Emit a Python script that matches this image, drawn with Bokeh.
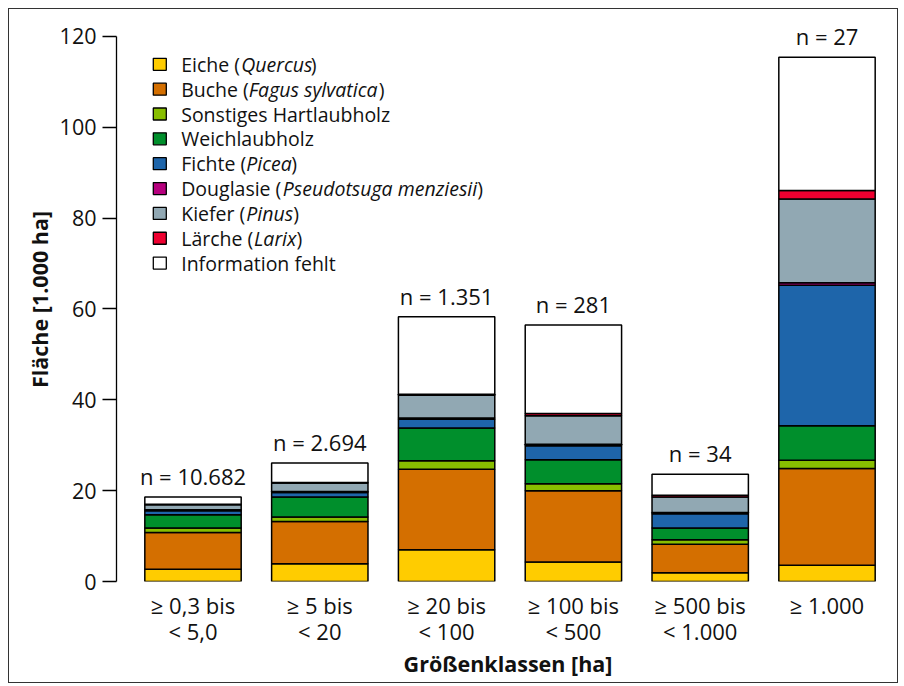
from bokeh.plotting import figure
from bokeh.models import Range1d, FixedTicker, ColumnDataSource
from bokeh.core.properties import value
from bokeh.embed import file_html
from bokeh.resources import INLINE

# ---------------- data ----------------
categories = ["≥ 0,3 bis\n< 5,0", "≥ 5 bis\n< 20", "≥ 20 bis\n< 100",
              "≥ 100 bis\n< 500", "≥ 500 bis\n< 1.000", "≥ 1.000"]
n_labels = ["n = 10.682", "n = 2.694", "n = 1.351", "n = 281", "n = 34", "n = 27"]

eiche     = [2.7, 3.9, 7.0, 4.3, 1.9, 3.6]
buche     = [8.1, 9.3, 17.7, 15.7, 6.3, 21.3]
hartlaub  = [1.0, 1.0, 1.9, 1.5, 1.0, 1.8]
weichlaub = [2.9, 4.4, 7.2, 5.3, 2.6, 7.6]
fichte    = [0.9, 1.0, 1.9, 3.1, 3.1, 30.9]
douglasie = [0.2, 0.2, 0.3, 0.3, 0.3, 0.6]
kiefer    = [1.1, 1.9, 5.0, 6.3, 3.4, 18.4]
laerche   = [0.1, 0.1, 0.2, 0.5, 0.4, 1.9]
fehlt     = [1.6, 4.3, 17.1, 19.5, 4.6, 29.3]

y_ticks = [0, 20, 40, 60, 80, 100, 120]

series_names = ["eiche", "buche", "hartlaub", "weichlaub", "fichte",
                "douglasie", "kiefer", "laerche", "fehlt"]
series_values = [eiche, buche, hartlaub, weichlaub, fichte,
                 douglasie, kiefer, laerche, fehlt]
colors = ["#FFCC00", "#D46F00", "#88BE00", "#008F2C", "#1E65AA",
          "#B6007E", "#91A8B3", "#EE0030", "#FFFFFF"]

# legend entries: list of (text, style)
legend_rows = [
    [("Eiche (", "normal"), ("Quercus", "italic"), (")", "normal")],
    [("Buche (", "normal"), ("Fagus sylvatica", "italic"), (")", "normal")],
    [("Sonstiges Hartlaubholz", "normal")],
    [("Weichlaubholz", "normal")],
    [("Fichte (", "normal"), ("Picea", "italic"), (")", "normal")],
    [("Douglasie (", "normal"), ("Pseudotsuga menziesii", "italic"), (")", "normal")],
    [("Kiefer (", "normal"), ("Pinus", "italic"), (")", "normal")],
    [("Lärche (", "normal"), ("Larix", "italic"), (")", "normal")],
    [("Information fehlt", "normal")],
]
# horizontal pixel starts of the text pieces in each legend row (layout)
legend_piece_px = [
    [180.7, 240.7, 310.3],
    [180.7, 248.3, 378.3],
    [180.7],
    [180.7],
    [180.7, 245.7, 290.7],
    [180.7, 282.3, 476.7],
    [180.7, 245.7, 292.7],
    [180.7, 253.5, 296.0],
    [180.7],
]

# ---------------- layout constants ----------------
FONT = "Open Sans"
X1_PX, X_SCALE = 192.5, 126.8     # page px of x=1, px per x unit
Y0_PX, Y_SCALE = 581.0, 4.542     # page px of y=0, px per y unit
CANVAS_X0, CANVAS_Y0 = 9, 9       # page px of the canvas origin


def px_to_x(px):
    return 1 + (px - X1_PX) / X_SCALE


def py_to_y(py):
    return (Y0_PX - py) / Y_SCALE


W, H = 890, 675
x_start = px_to_x(116)
x_end = px_to_x(CANVAS_X0 + W)
y_end = py_to_y(CANVAS_Y0 + 8)

p = figure(width=W, height=H, x_range=Range1d(x_start, x_end),
           y_range=Range1d(0, y_end), output_backend="svg",
           toolbar_location=None, min_border_left=116 - CANVAS_X0,
           min_border_right=0, min_border_top=8,
           min_border_bottom=CANVAS_Y0 + H - 581,
           styles={"border": "1px solid #333333", "margin-left": "8px",
                   "margin-top": "8px"})

xs = list(range(1, len(categories) + 1))
data = {"x": xs}
for name, vals in zip(series_names, series_values):
    data[name] = vals
source = ColumnDataSource(data)

p.vbar_stack(series_names, x="x", width=0.76, source=source,
             fill_color=colors, line_color="black", line_width=1.5)

totals = [sum(v) for v in zip(*series_values)]
p.text(x=xs, y=totals, text=n_labels, text_font=value(FONT),
       text_font_size="22px", text_align="center",
       text_baseline="alphabetic", y_offset=-21, text_color="#111111")

# legend
sq_x = px_to_x(159.3)
row0, row_step = 63.8, 24.85
sq_y = [py_to_y(row0 + i * row_step) for i in range(len(legend_rows))]
p.rect(x=[sq_x] * len(colors), y=sq_y, width=13, height=12,
       width_units="screen", height_units="screen",
       fill_color=colors, line_color="black", line_width=1.3)

norm = {"x": [], "y": [], "t": []}
ital = {"x": [], "y": [], "t": []}
for i, (row, pxs) in enumerate(zip(legend_rows, legend_piece_px)):
    for (txt, style), px in zip(row, pxs):
        d = ital if style == "italic" else norm
        d["x"].append(px_to_x(px))
        d["y"].append(sq_y[i])
        d["t"].append(txt)
p.text(x="x", y="y", text="t", source=ColumnDataSource(norm),
       text_font=value(FONT), text_font_size="19.5px", text_baseline="middle",
       text_align="left", text_color="#111111")
p.text(x="x", y="y", text="t", source=ColumnDataSource(ital),
       text_font=value(FONT), text_font_size="19.5px", text_font_style="italic",
       text_baseline="middle", text_align="left", text_color="#111111")

# axes
p.xgrid.visible = False
p.ygrid.visible = False
p.outline_line_color = None

ya = p.yaxis[0]
ya.ticker = FixedTicker(ticks=y_ticks)
ya.bounds = (0, 120)
ya.major_tick_out = 14
ya.major_tick_in = 0
ya.minor_tick_out = 0
ya.minor_tick_in = 0
ya.axis_line_color = "black"
ya.axis_line_width = 1.3
ya.major_tick_line_color = "black"
ya.major_tick_line_width = 1.3
ya.major_label_standoff = 6
ya.major_label_text_font = FONT
ya.major_label_text_font_size = "21.5px"
ya.major_label_text_color = "#111111"
ya.axis_label = "Fläche [1.000 ha]"
ya.axis_label_text_font = FONT
ya.axis_label_text_font_size = "21.5px"
ya.axis_label_text_font_style = "bold"
ya.axis_label_text_color = "#111111"
ya.axis_label_standoff = 3

xa = p.xaxis[0]
xa.ticker = FixedTicker(ticks=xs)
xa.major_label_overrides = {x: c for x, c in zip(xs, categories)}
xa.axis_line_color = None
xa.major_tick_line_color = None
xa.minor_tick_line_color = None
xa.major_label_standoff = 2
xa.major_label_text_font = FONT
xa.major_label_text_font_size = "22px"
xa.major_label_text_line_height = 0.87
xa.major_label_text_color = "#111111"
xa.axis_label = "Größenklassen [ha]"
xa.axis_label_text_font = FONT
xa.axis_label_text_font_size = "21.5px"
xa.axis_label_text_font_style = "bold"
xa.axis_label_text_color = "#111111"
xa.axis_label_standoff = 0

open("out.html", "w").write(file_html(p, INLINE))
